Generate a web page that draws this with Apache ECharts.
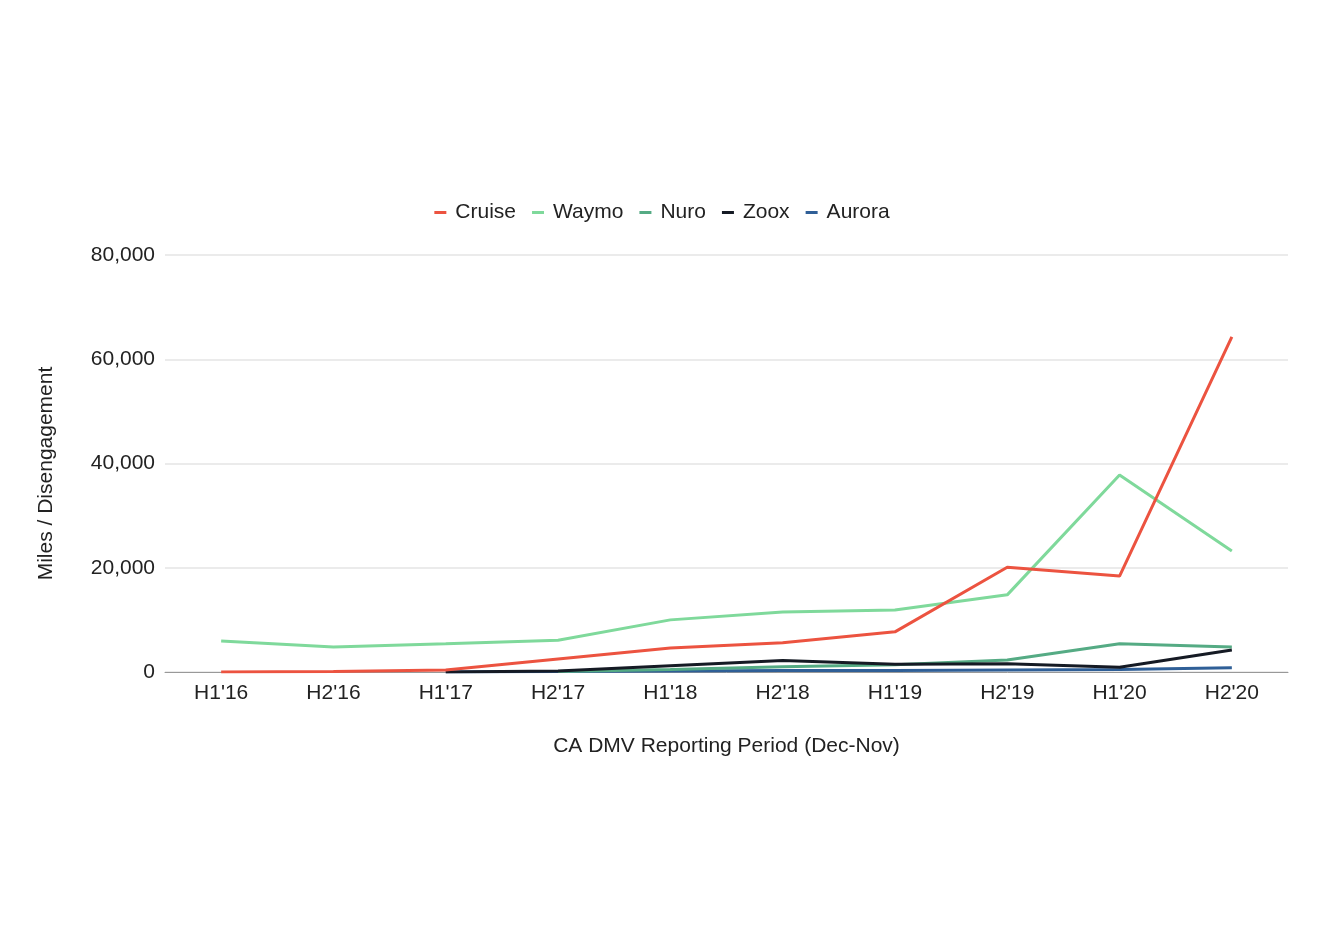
<!DOCTYPE html>
<html><head><meta charset="utf-8">
<script src="https://cdn.jsdelivr.net/npm/echarts@6/dist/echarts.min.js"></script>
<style>html,body{margin:0;padding:0;background:#fff}#c{width:1324px;height:942px}</style>
</head><body><div id="c"></div>
<script>
const categories = ["H1'16","H2'16","H1'17","H2'17","H1'18","H2'18","H1'19","H2'19","H1'20","H2'20"];
const cruise = [0, 100, 400, 2500, 4600, 5600, 7700, 20100, 18400, 64300];
const waymo = [5950, 4800, 5400, 6100, 10000, 11500, 11900, 14800, 37800, 23200];
const nuro = [null, null, null, 100, 500, 1000, 1400, 2300, 5400, 4800];
const zoox = [null, null, 0, 200, 1200, 2200, 1500, 1600, 900, 4200];
const aurora = [null, null, 0, 100, 200, 300, 300, 400, 500, 800];
const yTicks = [0, 20000, 40000, 60000, 80000];

const chart = echarts.init(document.getElementById('c'));
const font = 'Liberation Sans, Arial, sans-serif';
const fs = 21;
function s(name, data, color){
  return {name, type:'line', data, symbol:'none', showSymbol:false, connectNulls:false,
    lineStyle:{width:3, color}, itemStyle:{color}};
}
chart.setOption({
  animation:false,
  legend:{top:197, left:'center', itemWidth:12, itemHeight:3, itemGap:16, icon:'rect',
    data:['Cruise','Waymo','Nuro','Zoox','Aurora'],
    textStyle:{fontFamily:font, fontSize:fs, color:'#222', padding:[0,0,0,4]}},
  grid:{left:165, right:36, top:255, bottom:270, containLabel:false},
  xAxis:{type:'category', data:categories, boundaryGap:true,
    name:'CA DMV Reporting Period (Dec-Nov)', nameLocation:'middle', nameGap:64,
    nameTextStyle:{fontFamily:font, fontSize:fs, color:'#222'},
    axisLine:{lineStyle:{color:'#999'}}, axisTick:{show:false},
    axisLabel:{fontFamily:font, fontSize:fs, color:'#222', margin:11}},
  yAxis:{type:'value', min:0, max:80000, interval:20000,
    name:'Miles / Disengagement', nameLocation:'middle', nameGap:108,
    nameTextStyle:{fontFamily:font, fontSize:fs, color:'#222', padding:[0,20,0,0]},
    axisLine:{show:false}, axisTick:{show:false},
    splitLine:{lineStyle:{color:'#e4e4e4', width:1.5}},
    axisLabel:{fontFamily:font, fontSize:fs, color:'#222', margin:10,
      formatter:v=> yTicks.includes(v) ? v.toLocaleString('en-US') : ''}},
  series:[
    s('Aurora', aurora, '#2f5f97'),
    s('Nuro', nuro, '#55ab84'),
    s('Zoox', zoox, '#151a24'),
    s('Waymo', waymo, '#7fd99b'),
    s('Cruise', cruise, '#ec5340')
  ]
});
</script></body></html>
